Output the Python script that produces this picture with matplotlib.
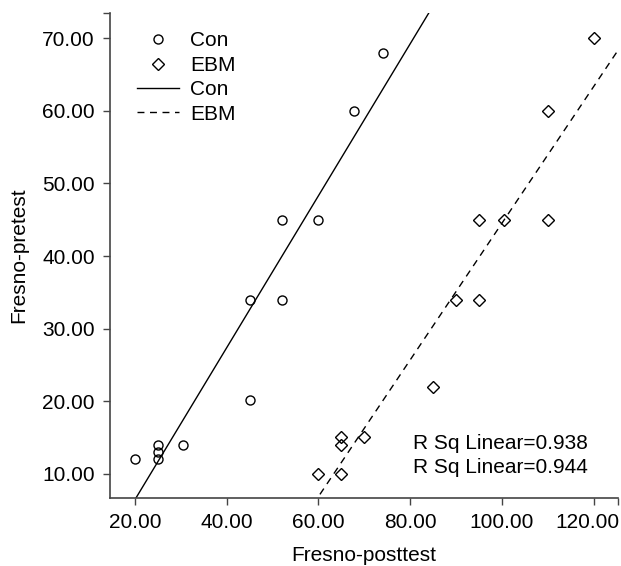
import numpy as np
import matplotlib
matplotlib.use("Agg")
import matplotlib.pyplot as plt
import matplotlib.transforms as mtransforms
from matplotlib.lines import Line2D

plt.rcParams['font.family'] = ['Liberation Sans', 'DejaVu Sans']

con_post = [20, 25, 25, 25, 30.5, 45, 45, 52, 52, 60, 67.7, 74]
con_pre = [12, 14, 13, 12, 14, 20.2, 34, 34, 45, 45, 60, 68]
ebm_post = [60, 65, 65, 65, 70, 85, 90, 95, 95, 100.5, 110, 110, 120]
ebm_pre = [10, 10, 14, 15, 15, 22, 34, 34, 45, 45, 45, 60, 70]
r2_labels = ["R Sq Linear=0.938", "R Sq Linear=0.944"]
x_ticks = [20, 40, 60, 80, 100, 120]
y_ticks = [10, 20, 30, 40, 50, 60, 70]

fig = plt.figure(figsize=(6.21, 5.66), dpi=100)
ax = fig.add_axes([110/621, 1-498/566, 508/621, 485/566])

xlim = (14.6, 125.3)
ylim = (6.65, 73.5)
ax.set_xlim(*xlim)
ax.set_ylim(*ylim)

ax.plot(con_post, con_pre, 'o', mfc='none', mec='black', ms=6.5, mew=1.0, ls='none')
ax.plot(ebm_post, ebm_pre, 'D', mfc='none', mec='black', ms=6, mew=1.0, ls='none')

xs = np.array(xlim)
b1, a1 = np.polyfit(con_post, con_pre, 1)
b2, a2 = np.polyfit(ebm_post, ebm_pre, 1)
ax.plot(xs, a1 + b1*xs, '-', color='black', lw=1.0)
ax.plot(xs, a2 + b2*xs, color='black', lw=1.0, dashes=(5, 4))

ax.text(80.7, 14.2, r2_labels[0], fontsize=15, va='center', ha='left')
ax.text(80.7, 10.9, r2_labels[1], fontsize=15, va='center', ha='left')

ax.set_xticks(x_ticks)
ax.set_yticks(y_ticks)
ax.set_xticks([xlim[1]], minor=True)
ax.set_yticks([ylim[1]], minor=True)
ax.set_xticklabels([f"{v:.2f}" for v in x_ticks])
ax.set_yticklabels([f"{v:.2f}" for v in y_ticks])
ax.tick_params(labelsize=15, length=5, width=1, color='#444444', pad=6)
ax.tick_params(which='minor', length=5, width=1, color='#444444')
for s in ['top', 'right']:
    ax.spines[s].set_visible(False)
for s in ['left', 'bottom']:
    ax.spines[s].set_color('#444444')
    ax.spines[s].set_linewidth(1.2)

# shift last x tick label left so it fits, as in the reference
lbl = ax.get_xticklabels()[-1]
lbl.set_transform(lbl.get_transform() + mtransforms.ScaledTranslation(-0.06, 0, fig.dpi_scale_trans))

ax.set_xlabel("Fresno-posttest", fontsize=15, labelpad=10)
ax.set_ylabel("Fresno-pretest", fontsize=15, labelpad=10)

handles = [
    Line2D([], [], marker='o', ls='none', mfc='none', mec='black', ms=6.5),
    Line2D([], [], marker='D', ls='none', mfc='none', mec='black', ms=6),
    Line2D([], [], ls='-', color='black', lw=1.0),
    Line2D([], [], color='black', lw=1.0, dashes=(5, 4)),
]
ax.legend(handles, ["Con", "EBM", "Con", "EBM"], loc='upper left', frameon=False,
          fontsize=15, bbox_to_anchor=(0.053, 0.962), borderaxespad=0, borderpad=0,
          handlelength=2.0, handletextpad=0.55, labelspacing=0.26)

fig.savefig("out.png", dpi=100)
